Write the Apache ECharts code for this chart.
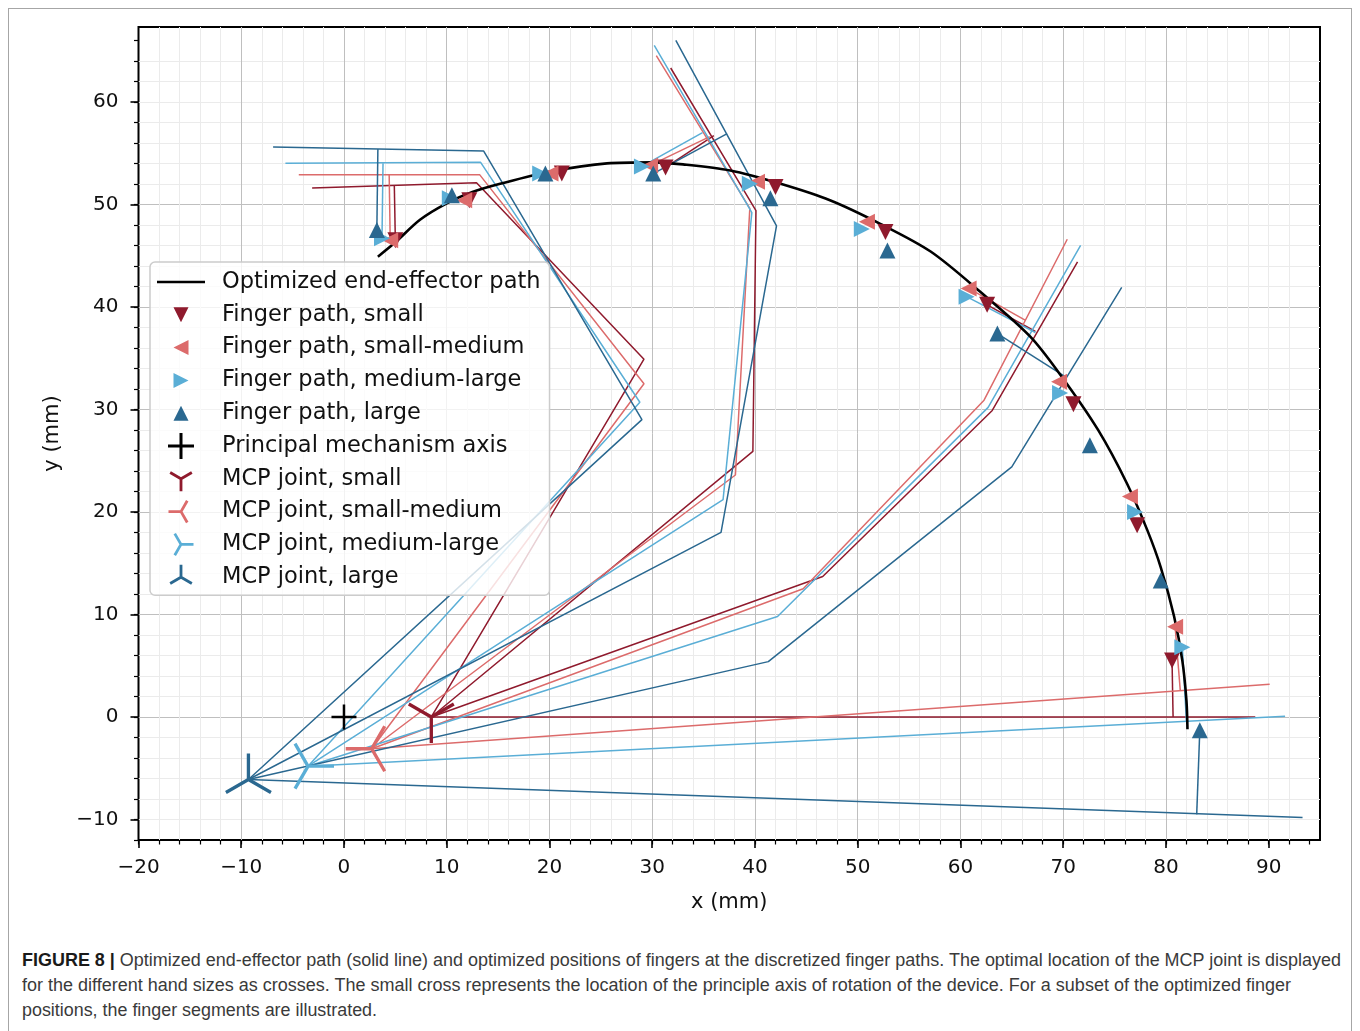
<!DOCTYPE html>
<html><head><meta charset="utf-8">
<script src="https://cdn.jsdelivr.net/npm/echarts@6/dist/echarts.min.js"></script>
<style>
html,body{margin:0;padding:0;background:#fff;width:1360px;height:1031px;overflow:hidden}
#frame{position:absolute;left:8px;top:8px;width:1344px;height:1040px;border:1px solid #a6a6a6;box-sizing:border-box}
#chart{position:absolute;left:0;top:0;width:1360px;height:930px}
#caption{position:absolute;left:22px;top:948px;font-family:"Liberation Sans Narrow","Arial Narrow","Liberation Sans",Arial,sans-serif;font-size:17.5px;color:#3a3a3a;line-height:25px}
.cl{white-space:nowrap;transform-origin:0 0;width:max-content;height:25px}
.cl b{color:#1a1a1a}
</style></head>
<body>
<div id="frame"></div>
<div id="chart"></div>
<div id="caption">
<div class="cl" data-w="1319"><b>FIGURE 8 |</b> Optimized end-effector path (solid line) and optimized positions of fingers at the discretized finger paths. The optimal location of the MCP joint is displayed</div>
<div class="cl" data-w="1269">for the different hand sizes as crosses. The small cross represents the location of the principle axis of rotation of the device. For a subset of the optimized finger</div>
<div class="cl" data-w="355">positions, the finger segments are illustrated.</div>
</div>
<script>
// ---------------- data ----------------
const X_MIN = -20, X_MAX = 95, Y_MIN = -12, Y_MAX = 67.3;
const xMajorTicks = [-20, -10, 0, 10, 20, 30, 40, 50, 60, 70, 80, 90];
const yMajorTicks = [-10, 0, 10, 20, 30, 40, 50, 60];

const endEffectorPath = [[3.3,44.9],[5,46.3],[7.4,48.5],[10,50.1],[12.5,51.2],[15.2,52.0],[20.1,53.2],[25.6,54.0],[30,54.1],[33,53.9],[37.6,53.3],[42.5,52.0],[47.3,50.4],[52.2,48.1],[57.1,45.4],[61.9,41.5],[66.8,37.1],[70,33.0],[73.4,28.0],[76.2,22.8],[78.2,18.2],[79.5,14.6],[80.8,9.8],[81.6,5.5],[82,1.6],[82.1,-1.2]];

const fingerPathSmall = [[5.0,46.5],[12.2,50.4],[21.2,53.0],[31.3,53.6],[42.0,51.7],[52.7,47.3],[62.6,40.2],[71.0,30.5],[77.2,18.7],[80.6,5.5]];
const fingerPathSmallMedium = [[4.5,46.5],[11.7,50.4],[20.1,53.0],[29.8,53.8],[40.2,52.2],[50.9,48.3],[60.8,41.8],[69.6,32.7],[76.5,21.5],[80.9,8.8]];
const fingerPathMediumLarge = [[3.7,46.7],[10.3,50.6],[19.1,53.0],[29.0,53.7],[39.5,52.0],[50.4,47.6],[60.6,41.0],[69.7,31.6],[77.0,20.0],[81.6,6.8]];
const fingerPathLarge = [[3.2,47.5],[10.5,50.9],[19.6,53.0],[30.1,53.0],[41.5,50.6],[52.9,45.5],[63.6,37.4],[72.6,26.5],[79.5,13.3],[83.3,-1.3]];

const principalAxis = [[0, 0]];
const mcpSmall = [[8.5, 0.0]];
const mcpSmallMedium = [[2.7, -3.1]];
const mcpMediumLarge = [[-3.5, -4.8]];
const mcpLarge = [[-9.3, -6.1]];

// finger segments (MCP -> PIP -> DIP -> tip) and connectors to the finger path point
const segmentsSmall = [
  [[8.5,0],[29.2,34.9],[12.9,52.1],[-3.1,51.6]], [[4.9,51.8],[5.0,46.5]],
  [[8.5,0],[39.8,25.9],[40.1,49.4],[31.8,63.3]], [[36.0,56.7],[31.3,53.6]],
  [[8.5,0],[46.6,13.7],[63.1,29.9],[71.4,44.4]], [[67.3,37.6],[62.6,40.2]],
  [[8.5,0],[88.7,0]], [[80.7,0],[80.6,5.5]]
];
const segmentsSmallMedium = [
  [[2.7,-3.1],[29.2,32.5],[13.2,52.9],[-4.4,52.9]], [[4.4,52.9],[4.5,46.5]],
  [[2.7,-3.1],[38.1,23.6],[39.5,49.6],[30.4,64.5]], [[35.6,56.6],[29.8,53.8]],
  [[2.7,-3.1],[44.7,12.5],[62.3,30.9],[70.4,46.6]], [[66.3,38.7],[60.8,41.8]],
  [[2.7,-3.1],[90.1,3.2]], [[81.4,2.6],[80.9,8.8]]
];
const segmentsMediumLarge = [
  [[-3.5,-4.8],[28.8,30.7],[13.3,54.1],[-5.7,54.0]], [[3.8,54.0],[3.7,46.7]],
  [[-3.5,-4.8],[36.9,21.2],[39.7,49.2],[30.2,65.5]], [[34.9,57.0],[29.0,53.7]],
  [[-3.5,-4.8],[42.2,9.8],[62.7,30.2],[71.7,46.0]], [[67.3,37.5],[60.6,41.0]],
  [[-3.5,-4.8],[91.6,0.07]], [[82.0,-0.45],[81.6,6.8]]
];
const segmentsLarge = [
  [[-9.3,-6.1],[29.0,29.0],[13.6,55.2],[-6.9,55.6]], [[3.3,55.4],[3.2,47.5]],
  [[-9.3,-6.1],[36.7,18.0],[42.1,47.9],[32.3,66.0]], [[37.3,56.9],[30.1,53.0]],
  [[-9.3,-6.1],[41.3,5.4],[65.0,24.4],[75.7,41.9]], [[70.2,33.2],[63.6,37.4]],
  [[-9.3,-6.1],[93.3,-9.8]], [[83.0,-9.5],[83.3,-1.3]]
];

// ---------------- styles ----------------
const C_SMALL = '#8f1a2d', C_SM = '#dc6b6b', C_ML = '#5aaed6', C_LARGE = '#2a6890';
const FONT = 'DejaVu Sans';

const xMinorTicks = []; for (let v = X_MIN; v < X_MAX; v += 2) xMinorTicks.push(v);
const yMinorTicks = []; for (let v = -12; v < Y_MAX; v += 2) yMinorTicks.push(v);

function armsPath(cx, cy, L, w, angles) {
  let s = '';
  for (const a of angles) {
    const r = a * Math.PI / 180, dx = Math.cos(r), dy = Math.sin(r), nx = -dy, ny = dx;
    const bx = cx - 0.6 * w * dx, by = cy - 0.6 * w * dy;
    const p = [[bx + w*nx, by + w*ny], [cx + L*dx + w*nx, cy + L*dy + w*ny], [cx + L*dx - w*nx, cy + L*dy - w*ny], [bx - w*nx, by - w*ny]];
    s += 'M' + p.map(q => q[0].toFixed(3) + ',' + q[1].toFixed(3)).join('L') + 'Z';
  }
  return s;
}
function boxPts(x0, y0, x1, y1) {
  return 'M' + x0 + ',' + y0 + 'L' + (x0 + 0.01) + ',' + y0 + 'L' + x0 + ',' + (y0 + 0.01) + 'Z' +
         'M' + x1 + ',' + y1 + 'L' + (x1 - 0.01) + ',' + y1 + 'L' + x1 + ',' + (y1 - 0.01) + 'Z';
}
const ANG = { down: [90, 210, 330], up: [270, 30, 150], left: [180, 60, 300], right: [0, 120, 240], plus: [0, 90, 180, 270] };
const symTri = k => 'path://' + boxPts(0, 0, 100, 100) + armsPath(50, 50, 50, 3.2, ANG[k]);
const legTri = k => 'path://' + boxPts(0, 0, 48, 26) + armsPath(24, 13, 12.5, 1.4, ANG[k]);
const SYM_PLUS = 'path://' + boxPts(0, 0, 100, 100) + armsPath(50, 50, 50, 5, ANG.plus);
const LEG_PLUS = 'path://' + boxPts(0, 0, 48, 26) + armsPath(24, 13, 13, 1.5, ANG.plus);
const LEG_LINE = 'path://' + boxPts(0, 0, 48, 26) + 'M0,11.7L48,11.7L48,14.3L0,14.3Z';

const TRI = {
  down: 'path://M0,0L2,0L1,2Z', left: 'path://M2,0L2,2L0,1Z',
  right: 'path://M0,0L0,2L2,1Z', up: 'path://M1,0L2,2L0,2Z'
};
const LEG_TRI = {
  down: 'path://' + boxPts(0,0,48,26) + 'M16.5,5.5L31.5,5.5L24,20.5Z',
  left: 'path://' + boxPts(0,0,48,26) + 'M31.5,5.5L31.5,20.5L16.5,13Z',
  right: 'path://' + boxPts(0,0,48,26) + 'M16.5,5.5L16.5,20.5L31.5,13Z',
  up: 'path://' + boxPts(0,0,48,26) + 'M24,5.5L31.5,20.5L16.5,20.5Z'
};

function fmt(v) { return v < 0 ? '\u2212' + Math.abs(v) : String(v); }

const series = [];
function addSegments(list, color) {
  list.forEach(pl => series.push({
    type: 'line', name: 'segment', data: pl, symbol: 'none', silent: true, z: 2,
    xAxisIndex: 1, yAxisIndex: 1,
    lineStyle: { color: color, width: 1.5 }, emphasis: { disabled: true }
  }));
}
addSegments(segmentsSmall, C_SMALL);
addSegments(segmentsSmallMedium, C_SM);
addSegments(segmentsMediumLarge, C_ML);
addSegments(segmentsLarge, C_LARGE);

series.push({
  type: 'line', name: 'Optimized end-effector path', data: endEffectorPath, symbol: 'none', smooth: 0.3,
  xAxisIndex: 1, yAxisIndex: 1, z: 3, lineStyle: { color: '#000', width: 2.6 }, itemStyle: { color: '#000' }
});
function addScatter(name, data, sym, size, color, z) {
  series.push({
    type: 'scatter', name: name, data: data, symbol: sym, symbolSize: size, symbolKeepAspect: true,
    xAxisIndex: 1, yAxisIndex: 1, z: z, itemStyle: { color: color, opacity: 1 }, emphasis: { disabled: true }
  });
}
addScatter('Finger path, small', fingerPathSmall, TRI.down, 16, C_SMALL, 4);
addScatter('Finger path, small-medium', fingerPathSmallMedium, TRI.left, 16, C_SM, 4);
addScatter('Finger path, medium-large', fingerPathMediumLarge, TRI.right, 16, C_ML, 4);
addScatter('Finger path, large', fingerPathLarge, TRI.up, 16, C_LARGE, 4);
addScatter('Principal mechanism axis', principalAxis, SYM_PLUS, 25, '#000', 5);
addScatter('MCP joint, small', mcpSmall, symTri('down'), 52, C_SMALL, 5);
addScatter('MCP joint, small-medium', mcpSmallMedium, symTri('left'), 52, C_SM, 5);
addScatter('MCP joint, medium-large', mcpMediumLarge, symTri('right'), 52, C_ML, 5);
addScatter('MCP joint, large', mcpLarge, symTri('up'), 52, C_LARGE, 5);

const tickLabel = { fontFamily: FONT, fontSize: 20, color: '#111' };
const option = {
  animation: false,
  backgroundColor: 'transparent',
  grid: { left: 138.5, top: 27, width: 1181.5, height: 813, show: true, borderColor: '#000', borderWidth: 2, backgroundColor: 'transparent' },
  xAxis: [
    { type: 'value', min: X_MIN, max: X_MAX, interval: 2, position: 'bottom',
      axisLine: { show: false, onZero: false },
      axisTick: { show: true, customValues: xMinorTicks, length: 4.5, lineStyle: { color: '#000', width: 1.2 } },
      axisLabel: { show: false },
      splitLine: { show: true, showMinLine: false, showMaxLine: false, lineStyle: { color: '#ebebeb', width: 1 } } },
    { type: 'value', min: X_MIN, max: X_MAX, interval: 10, position: 'bottom',
      name: 'x (mm)', nameLocation: 'middle', nameGap: 52,
      nameTextStyle: { fontFamily: FONT, fontSize: 21, color: '#111' },
      axisLine: { show: false, onZero: false },
      axisTick: { show: true, customValues: xMajorTicks, length: 8, lineStyle: { color: '#000', width: 1.6 } },
      axisLabel: Object.assign({ customValues: xMajorTicks, formatter: fmt, margin: 18 }, tickLabel),
      splitLine: { show: true, showMinLine: false, showMaxLine: false, lineStyle: { color: '#bfbfbf', width: 1 } } }
  ],
  yAxis: [
    { type: 'value', min: Y_MIN, max: Y_MAX, interval: 2, position: 'left',
      axisLine: { show: false, onZero: false },
      axisTick: { show: true, customValues: yMinorTicks, length: 4.5, lineStyle: { color: '#000', width: 1.2 } },
      axisLabel: { show: false },
      splitLine: { show: true, showMinLine: false, showMaxLine: false, lineStyle: { color: '#ebebeb', width: 1 } } },
    { type: 'value', min: Y_MIN, max: Y_MAX, splitNumber: 8, position: 'left',
      name: 'y (mm)', nameLocation: 'middle', nameGap: 75, nameRotate: 90,
      nameTextStyle: { fontFamily: FONT, fontSize: 21, color: '#111' },
      axisLine: { show: false, onZero: false },
      axisTick: { show: true, customValues: yMajorTicks, length: 8, lineStyle: { color: '#000', width: 1.6 } },
      axisLabel: Object.assign({ customValues: yMajorTicks, formatter: fmt, margin: 20 }, tickLabel),
      splitLine: { show: true, showMinLine: false, showMaxLine: false, lineStyle: { color: '#bfbfbf', width: 1 } } }
  ],
  legend: {
    show: true, orient: 'vertical', left: 150, top: 262, z: 10,
    itemWidth: 48, itemHeight: 26, itemGap: 6.8,
    padding: [7, 9, 5, 7],
    backgroundColor: 'rgba(255,255,255,0.8)', borderColor: '#cccccc', borderWidth: 1.5, borderRadius: 5,
    selectedMode: false,
    textStyle: { fontFamily: FONT, fontSize: 22.5, lineHeight: 26, color: '#111', padding: [0, 0, 0, 12] },
    data: [
      { name: 'Optimized end-effector path', icon: LEG_LINE, itemStyle: { color: '#000' } },
      { name: 'Finger path, small', icon: LEG_TRI.down, itemStyle: { color: C_SMALL } },
      { name: 'Finger path, small-medium', icon: LEG_TRI.left, itemStyle: { color: C_SM } },
      { name: 'Finger path, medium-large', icon: LEG_TRI.right, itemStyle: { color: C_ML } },
      { name: 'Finger path, large', icon: LEG_TRI.up, itemStyle: { color: C_LARGE } },
      { name: 'Principal mechanism axis', icon: LEG_PLUS, itemStyle: { color: '#000' } },
      { name: 'MCP joint, small', icon: legTri('down'), itemStyle: { color: C_SMALL } },
      { name: 'MCP joint, small-medium', icon: legTri('left'), itemStyle: { color: C_SM } },
      { name: 'MCP joint, medium-large', icon: legTri('right'), itemStyle: { color: C_ML } },
      { name: 'MCP joint, large', icon: legTri('up'), itemStyle: { color: C_LARGE } }
    ]
  },
  series: series
};
const chart = echarts.init(document.getElementById('chart'), null, { renderer: 'canvas' });
chart.setOption(option);

// fit caption lines to their widths
document.querySelectorAll('.cl').forEach(el => {
  const w = el.getBoundingClientRect().width;
  const target = +el.getAttribute('data-w');
  el.style.transform = 'scaleX(' + (target / w) + ')';
});
</script>
</body></html>
